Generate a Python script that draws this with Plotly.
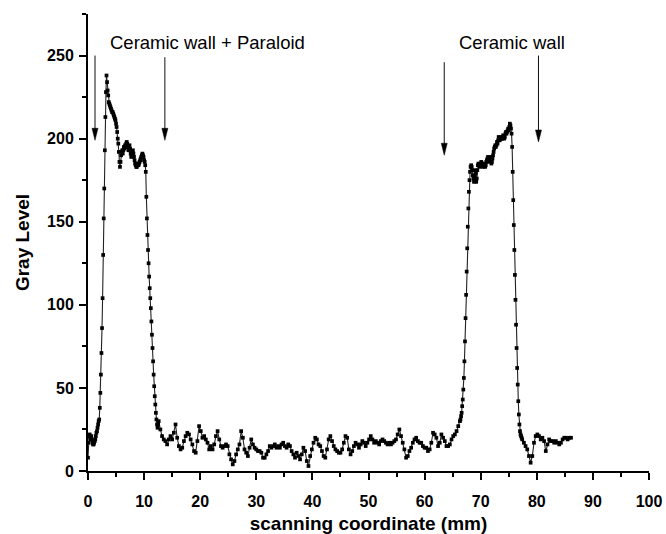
import numpy as np
import plotly.graph_objects as go

# ---- data ----
# segment 1: x = 0.0 .. 12.5 mm, step 0.1
seg1_start, seg1_step = 0.0, 0.1
seg1_y = [
    8, 17, 21, 22, 20, 19, 21, 19, 17, 16,
    16, 17, 18, 19, 21, 23, 24, 26, 28, 30,
    31, 38, 47, 58, 71, 86, 104, 130, 152, 170,
    193, 213, 228, 238, 234, 229, 226, 222, 221, 220,
    219, 218, 217, 216, 216, 215, 214, 213, 212, 211,
    209, 207, 204, 200, 197, 192, 186, 183, 186, 190,
    192, 193, 191, 193, 195, 194, 196, 195, 197, 198,
    197, 195, 193, 195, 196, 194, 191, 189, 190, 192,
    193, 191, 189, 187, 185, 184, 183, 183, 184, 185,
    184, 185, 186, 187, 188, 189, 190, 191, 190, 189,
    187, 186, 184, 180, 165, 152, 142, 133, 125, 117,
    110, 104, 98, 90, 82, 74, 66, 58, 51, 45,
    40, 35, 31, 28, 26, 28,
]
# segment 2: x = 12.6 .. 66.3 mm, step 0.3
seg2_start, seg2_step = 12.6, 0.3
seg2_y = [
    30, 25, 21, 19, 18, 16, 19, 21, 19, 23,
    28, 20, 15, 13, 14, 18, 21, 23, 22, 19,
    16, 12, 11, 18, 27, 24, 20, 21, 19, 17,
    13, 15, 13, 16, 21, 24, 19, 15, 14, 15,
    16, 15, 10, 7, 4, 6, 10, 13, 16, 24,
    20, 13, 11, 9, 14, 19, 16, 14, 13, 12,
    12, 11, 8, 8, 10, 12, 15, 14, 15, 16,
    14, 15, 14, 16, 17, 15, 14, 16, 15, 12,
    10, 8, 11, 9, 7, 10, 14, 12, 6, 3,
    9, 13, 17, 20, 19, 16, 15, 12, 9, 8,
    13, 19, 21, 18, 15, 13, 12, 11, 11, 13,
    17, 21, 20, 13, 10, 12, 15, 17, 16, 14,
    16, 18, 17, 15, 17, 19, 21, 19, 17, 18,
    17, 16, 18, 19, 18, 17, 16, 17, 16, 17,
    18, 19, 22, 25, 21, 17, 13, 8, 9, 12,
    14, 17, 19, 20, 18, 17, 17, 15, 14, 14,
    12, 13, 17, 23, 22, 20, 15, 17, 22, 20,
    18, 15, 15, 16, 19, 21, 22, 24, 27, 30,
]
# segment 3: x = 66.4 .. 77.4 mm, step 0.1
seg3_start, seg3_step = 66.4, 0.1
seg3_y = [
    31, 33, 35, 39, 43, 49, 56, 66, 78, 92,
    106, 120, 134, 147, 158, 168, 175, 180, 183, 184,
    183, 181, 178, 176, 174, 177, 181, 179, 174, 176,
    181, 184, 185, 184, 183, 184, 185, 186, 185, 184,
    183, 184, 185, 184, 183, 184, 186, 187, 188, 189,
    188, 186, 187, 189, 187, 185, 186, 188, 190, 192,
    194, 195, 196, 195, 196, 198, 197, 199, 201, 200,
    199, 200, 201, 200, 200, 201, 202, 201, 200, 201,
    203, 204, 203, 204, 205, 206, 205, 207, 209, 208,
    206, 203, 195, 180, 163, 148, 133, 118, 103, 88,
    74, 62, 52, 42, 34, 28, 24, 22, 21, 20,
    19,
]
# segment 4: x = 77.7 .. 86.1 mm, step 0.3
seg4_start, seg4_step = 77.7, 0.3
seg4_y = [
    17, 15, 13, 9, 5, 9, 17, 21, 22, 21,
    19, 20, 18, 12, 16, 19, 18, 18, 17, 18,
    17, 16, 17, 19, 20, 20, 19, 20, 20,
]

x_ticks = [0, 10, 20, 30, 40, 50, 60, 70, 80, 90, 100]
y_ticks = [0, 50, 100, 150, 200, 250]

# arrows: (x position, tail y, head-tip y)
arrow_x = [1.25, 13.7, 63.5, 80.3]
arrow_tail_y = [250, 249, 246, 250]
arrow_head_y = [199, 199, 190, 198]

labels_text = ["Ceramic wall + Paraloid", "Ceramic wall"]
labels_x = [21.3, 75.6]
labels_y = [258, 258]

segments = [
    (seg1_start, seg1_step, seg1_y),
    (seg2_start, seg2_step, seg2_y),
    (seg3_start, seg3_step, seg3_y),
    (seg4_start, seg4_step, seg4_y),
]
xs, ys = [], []
for s, st, yy in segments:
    xs.extend(np.round(s + st * np.arange(len(yy)), 3).tolist())
    ys.extend(yy)

fig = go.Figure()
fig.add_trace(go.Scatter(
    x=xs, y=ys, mode="lines+markers",
    line=dict(color="#222", width=1.1),
    marker=dict(symbol="square", size=3.7, color="black"),
    cliponaxis=False, showlegend=False,
))

for xa, yt, yh in zip(arrow_x, arrow_tail_y, arrow_head_y):
    # shaft
    fig.add_shape(type="line", xref="x", yref="y", x0=xa, x1=xa, y0=yt, y1=yh + 4,
                  line=dict(color="#111", width=1))
    # head (pixel-sized narrow triangle anchored at the tip)
    fig.add_shape(type="path", xref="x", yref="y",
                  xsizemode="pixel", ysizemode="pixel",
                  xanchor=xa, yanchor=yh,
                  path="M0,0 L-3,12 L3,12 Z",
                  fillcolor="black", line=dict(color="black", width=0.5))

for t, xl, yl in zip(labels_text, labels_x, labels_y):
    fig.add_annotation(
        x=xl, y=yl, xref="x", yref="y", text=t, showarrow=False,
        font=dict(family="Liberation Sans, Arial", size=18.5, color="black"),
        xanchor="center", yanchor="middle",
    )

axis_common = dict(
    showgrid=False, zeroline=False, showline=True, linecolor="black",
    linewidth=2, ticks="outside", tickcolor="black", tickwidth=2,
    ticklen=7, automargin=False,
    tickfont=dict(family="Liberation Sans, Arial", size=16, color="black",
                  weight="bold"),
)

fig.update_xaxes(
    range=[0, 100], tickvals=x_ticks, ticktext=[str(v) for v in x_ticks],
    ticklabelstandoff=8,
    minor=dict(ticks="outside", dtick=5, ticklen=4, tickwidth=2,
               tickcolor="black", tick0=0),
    title=dict(text="<b>scanning coordinate (mm)</b>", standoff=13,
               font=dict(family="Liberation Sans, Arial", size=19,
                         color="black")),
    **axis_common,
)
fig.update_yaxes(
    range=[0, 275], tickvals=y_ticks, ticktext=[str(v) for v in y_ticks],
    ticklabelstandoff=2,
    minor=dict(ticks="outside", dtick=25, ticklen=4, tickwidth=2,
               tickcolor="black", tick0=0),
    title=dict(text="<b>Gray Level</b>", standoff=12,
               font=dict(family="Liberation Sans, Arial", size=19,
                         color="black")),
    **axis_common,
)

fig.update_layout(
    width=666, height=534,
    margin=dict(l=88, r=17, t=14, b=63),
    plot_bgcolor="white", paper_bgcolor="white",
)

fig.write_html("out.html")
